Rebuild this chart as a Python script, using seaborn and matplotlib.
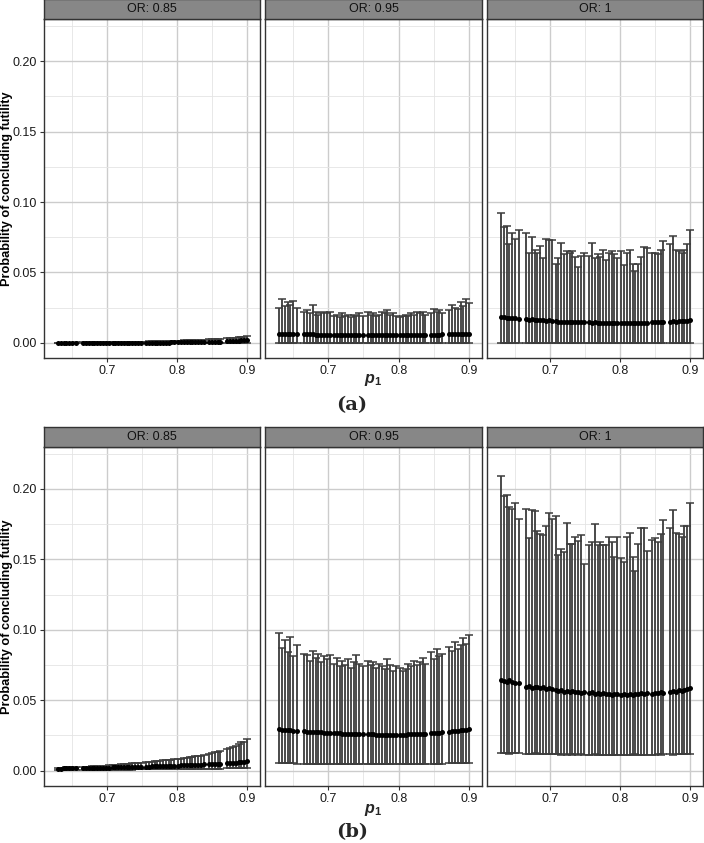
import numpy as np
import pandas as pd
import seaborn as sns
import matplotlib
matplotlib.use("Agg")
import matplotlib.pyplot as plt
from matplotlib.ticker import MultipleLocator

# p1 grid (shared by all panels)
p1 = [0.630, 0.634, 0.638, 0.642, 0.646, 0.650, 0.655,
      0.666, 0.670, 0.674, 0.678, 0.682, 0.686, 0.690, 0.694, 0.698,
      0.703, 0.708, 0.712, 0.716, 0.720, 0.724, 0.728, 0.732, 0.736, 0.740, 0.744, 0.749,
      0.756, 0.760, 0.764, 0.768, 0.772, 0.776, 0.780, 0.784, 0.788, 0.792, 0.796,
      0.802, 0.806, 0.810, 0.814, 0.818, 0.822, 0.826, 0.830, 0.834, 0.838,
      0.846, 0.850, 0.854, 0.858, 0.862,
      0.872, 0.876, 0.880, 0.884, 0.888, 0.892, 0.896, 0.900]

odds_ratios = ["0.85", "0.95", "1"]
rows = ["a", "b"]

# ---- (a) ----
lower_a = [0.0, 0.0, 0.0, 0.0, 0.0, 0.0, 0.0,
           0.0, 0.0, 0.0, 0.0, 0.0, 0.0, 0.0, 0.0, 0.0,
           0.0, 0.0, 0.0, 0.0, 0.0, 0.0, 0.0, 0.0, 0.0, 0.0, 0.0, 0.0,
           0.0, 0.0, 0.0, 0.0, 0.0, 0.0, 0.0, 0.0, 0.0, 0.0, 0.0,
           0.0, 0.0, 0.0, 0.0, 0.0, 0.0, 0.0, 0.0, 0.0, 0.0,
           0.0, 0.0, 0.0, 0.0, 0.0,
           0.0, 0.0, 0.0, 0.0, 0.0, 0.0, 0.0, 0.0]

a85_mean = [0.0000, 0.0000, 0.0000, 0.0000, 0.0000, 0.0000, 0.0000,
            0.0000, 0.0000, 0.0000, 0.0000, 0.0000, 0.0000, 0.0000, 0.0000, 0.0000,
            0.0000, 0.0000, 0.0001, 0.0001, 0.0001, 0.0001, 0.0001, 0.0001, 0.0001, 0.0001, 0.0001, 0.0001,
            0.0001, 0.0001, 0.0001, 0.0002, 0.0002, 0.0002, 0.0002, 0.0002, 0.0002, 0.0003, 0.0003,
            0.0003, 0.0003, 0.0003, 0.0004, 0.0004, 0.0004, 0.0005, 0.0005, 0.0005, 0.0006,
            0.0007, 0.0007, 0.0008, 0.0008, 0.0009,
            0.0011, 0.0012, 0.0013, 0.0014, 0.0015, 0.0017, 0.0018, 0.0020]
a85_upper = [0.0002, 0.0002, 0.0002, 0.0002, 0.0002, 0.0002, 0.0003,
             0.0003, 0.0003, 0.0003, 0.0004, 0.0004, 0.0004, 0.0004, 0.0005, 0.0005,
             0.0005, 0.0005, 0.0006, 0.0006, 0.0006, 0.0007, 0.0007, 0.0007, 0.0008, 0.0008, 0.0008, 0.0009,
             0.0009, 0.0010, 0.0010, 0.0011, 0.0011, 0.0012, 0.0012, 0.0013, 0.0013, 0.0014, 0.0015,
             0.0015, 0.0016, 0.0017, 0.0017, 0.0018, 0.0019, 0.0020, 0.0021, 0.0022, 0.0023,
             0.0025, 0.0026, 0.0027, 0.0028, 0.0030,
             0.0032, 0.0034, 0.0036, 0.0037, 0.0039, 0.0041, 0.0043, 0.0046]

a95_mean = [0.0066, 0.0065, 0.0064, 0.0064, 0.0063, 0.0063, 0.0062,
            0.0061, 0.0061, 0.0060, 0.0060, 0.0059, 0.0059, 0.0058, 0.0058, 0.0058,
            0.0057, 0.0057, 0.0056, 0.0056, 0.0056, 0.0055, 0.0055, 0.0055, 0.0055, 0.0054, 0.0054, 0.0054,
            0.0054, 0.0054, 0.0053, 0.0053, 0.0053, 0.0053, 0.0053, 0.0054, 0.0054, 0.0054, 0.0054,
            0.0054, 0.0055, 0.0055, 0.0055, 0.0055, 0.0056, 0.0056, 0.0056, 0.0057, 0.0057,
            0.0058, 0.0058, 0.0059, 0.0059, 0.0060,
            0.0061, 0.0061, 0.0062, 0.0062, 0.0063, 0.0064, 0.0064, 0.0065]
a95_upper = [0.025, 0.031, 0.026, 0.029, 0.027, 0.030, 0.025,
             0.022, 0.023, 0.021, 0.027, 0.022, 0.020, 0.021, 0.022, 0.021,
             0.022, 0.019, 0.020, 0.018, 0.021, 0.019, 0.020, 0.018, 0.020, 0.019, 0.021, 0.019,
             0.022, 0.020, 0.021, 0.019, 0.020, 0.022, 0.021, 0.023, 0.020, 0.021, 0.019,
             0.018, 0.019, 0.020, 0.019, 0.021, 0.020, 0.022, 0.021, 0.022, 0.020,
             0.021, 0.024, 0.022, 0.023, 0.021,
             0.023, 0.027, 0.025, 0.024, 0.029, 0.026, 0.031, 0.028]

a1_mean = [0.0185, 0.0180, 0.0178, 0.0176, 0.0174, 0.0175, 0.0172,
           0.0166, 0.0164, 0.0167, 0.0163, 0.0165, 0.0160, 0.0162, 0.0158, 0.0160,
           0.0155, 0.0152, 0.0150, 0.0151, 0.0148, 0.0149, 0.0147, 0.0148, 0.0146, 0.0147, 0.0145, 0.0146,
           0.0146, 0.0144, 0.0145, 0.0143, 0.0144, 0.0142, 0.0143, 0.0141, 0.0143, 0.0142, 0.0141,
           0.0140, 0.0142, 0.0141, 0.0140, 0.0142, 0.0141, 0.0143, 0.0142, 0.0144, 0.0143,
           0.0145, 0.0146, 0.0145, 0.0147, 0.0148,
           0.0150, 0.0152, 0.0151, 0.0154, 0.0155, 0.0157, 0.0158, 0.0160]
a1_upper = [0.092, 0.082, 0.083, 0.070, 0.078, 0.074, 0.080,
            0.078, 0.064, 0.075, 0.066, 0.064, 0.069, 0.060, 0.074, 0.073,
            0.073, 0.056, 0.060, 0.071, 0.063, 0.065, 0.064, 0.065, 0.061, 0.054, 0.062, 0.064,
            0.062, 0.071, 0.060, 0.063, 0.061, 0.066, 0.059, 0.064, 0.065, 0.063, 0.060,
            0.065, 0.055, 0.064, 0.066, 0.056, 0.051, 0.056, 0.061, 0.068, 0.067,
            0.064, 0.064, 0.063, 0.066, 0.072,
            0.070, 0.076, 0.066, 0.065, 0.064, 0.066, 0.070, 0.080]

# ---- (b) ----
b85_mean = [0.0014, 0.0014, 0.0015, 0.0015, 0.0015, 0.0016, 0.0016,
            0.0017, 0.0017, 0.0018, 0.0018, 0.0019, 0.0019, 0.0020, 0.0020, 0.0021,
            0.0021, 0.0022, 0.0022, 0.0023, 0.0023, 0.0024, 0.0024, 0.0025, 0.0025, 0.0026, 0.0026, 0.0027,
            0.0028, 0.0028, 0.0029, 0.0029, 0.0030, 0.0031, 0.0031, 0.0032, 0.0033, 0.0033, 0.0034,
            0.0035, 0.0036, 0.0036, 0.0037, 0.0038, 0.0039, 0.0040, 0.0041, 0.0042, 0.0043,
            0.0045, 0.0046, 0.0047, 0.0048, 0.0049,
            0.0052, 0.0053, 0.0055, 0.0056, 0.0058, 0.0060, 0.0062, 0.0066]
b85_upper = [0.0019, 0.0020, 0.0021, 0.0022, 0.0022, 0.0023, 0.0024,
             0.0026, 0.0027, 0.0028, 0.0029, 0.0030, 0.0031, 0.0033, 0.0034, 0.0035,
             0.0037, 0.0038, 0.0040, 0.0041, 0.0043, 0.0044, 0.0046, 0.0048, 0.0050, 0.0052, 0.0054, 0.0056,
             0.0060, 0.0062, 0.0064, 0.0066, 0.0068, 0.0070, 0.0072, 0.0074, 0.0076, 0.0078, 0.0080,
             0.0083, 0.0085, 0.0088, 0.0091, 0.0094, 0.0097, 0.0100, 0.0103, 0.0106, 0.0109,
             0.0120, 0.0124, 0.0129, 0.0134, 0.0138,
             0.0155, 0.0160, 0.0170, 0.0175, 0.0185, 0.0200, 0.0205, 0.0222]
b85_lower = [0.0004, 0.0004, 0.0004, 0.0004, 0.0004, 0.0005, 0.0005,
             0.0005, 0.0005, 0.0005, 0.0005, 0.0005, 0.0006, 0.0006, 0.0006, 0.0006,
             0.0006, 0.0006, 0.0006, 0.0007, 0.0007, 0.0007, 0.0007, 0.0007, 0.0007, 0.0008, 0.0008, 0.0008,
             0.0008, 0.0008, 0.0008, 0.0009, 0.0009, 0.0009, 0.0009, 0.0009, 0.0010, 0.0010, 0.0010,
             0.0010, 0.0010, 0.0011, 0.0011, 0.0011, 0.0011, 0.0012, 0.0012, 0.0012, 0.0012,
             0.0013, 0.0013, 0.0013, 0.0014, 0.0014,
             0.0015, 0.0015, 0.0016, 0.0016, 0.0017, 0.0017, 0.0018, 0.0018]

b95_mean = [0.0292, 0.0288, 0.0286, 0.0287, 0.0285, 0.0284, 0.0283,
            0.0278, 0.0277, 0.0276, 0.0276, 0.0275, 0.0273, 0.0272, 0.0270, 0.0268,
            0.0266, 0.0265, 0.0263, 0.0264, 0.0262, 0.0261, 0.0262, 0.0260, 0.0259, 0.0260, 0.0258, 0.0257,
            0.0258, 0.0257, 0.0256, 0.0255, 0.0254, 0.0255, 0.0253, 0.0254, 0.0253, 0.0252, 0.0252,
            0.0253, 0.0254, 0.0255, 0.0256, 0.0256, 0.0258, 0.0258, 0.0260, 0.0261, 0.0262,
            0.0265, 0.0266, 0.0268, 0.0269, 0.0271,
            0.0276, 0.0278, 0.0280, 0.0283, 0.0285, 0.0287, 0.0291, 0.0296]
b95_upper = [0.098, 0.087, 0.093, 0.084, 0.095, 0.081, 0.089,
             0.083, 0.082, 0.078, 0.085, 0.080, 0.083, 0.077, 0.081, 0.079,
             0.082, 0.076, 0.080, 0.074, 0.078, 0.075, 0.079, 0.073, 0.077, 0.082, 0.076, 0.074,
             0.078, 0.075, 0.077, 0.073, 0.076, 0.074, 0.072, 0.079, 0.075, 0.071, 0.074,
             0.073, 0.071, 0.072, 0.076, 0.074, 0.078, 0.075, 0.077, 0.080, 0.076,
             0.084, 0.079, 0.086, 0.081, 0.083,
             0.088, 0.085, 0.091, 0.086, 0.089, 0.094, 0.090, 0.096]
b95_lower = [0.0052, 0.0051, 0.0051, 0.0050, 0.0050, 0.0050, 0.0049,
             0.0049, 0.0049, 0.0048, 0.0048, 0.0048, 0.0048, 0.0048, 0.0047, 0.0047,
             0.0047, 0.0047, 0.0047, 0.0047, 0.0046, 0.0046, 0.0046, 0.0046, 0.0046, 0.0046, 0.0046, 0.0046,
             0.0046, 0.0046, 0.0046, 0.0046, 0.0046, 0.0046, 0.0046, 0.0046, 0.0046, 0.0046, 0.0046,
             0.0046, 0.0046, 0.0047, 0.0047, 0.0047, 0.0047, 0.0047, 0.0047, 0.0048, 0.0048,
             0.0048, 0.0048, 0.0049, 0.0049, 0.0049,
             0.0050, 0.0050, 0.0051, 0.0051, 0.0052, 0.0052, 0.0053, 0.0054]

b1_mean = [0.0645, 0.0638, 0.0632, 0.0640, 0.0628, 0.0624, 0.0620,
           0.0595, 0.0602, 0.0588, 0.0596, 0.0590, 0.0583, 0.0592, 0.0580, 0.0586,
           0.0576, 0.0570, 0.0566, 0.0572, 0.0561, 0.0565, 0.0558, 0.0562, 0.0555, 0.0560, 0.0552, 0.0557,
           0.0550, 0.0556, 0.0545, 0.0552, 0.0542, 0.0548, 0.0540, 0.0546, 0.0538, 0.0544, 0.0541,
           0.0536, 0.0543, 0.0539, 0.0546, 0.0537, 0.0544, 0.0540, 0.0548, 0.0542, 0.0550,
           0.0545, 0.0552, 0.0548, 0.0556, 0.0553,
           0.0560, 0.0566, 0.0558, 0.0570, 0.0565, 0.0574, 0.0580, 0.0585]
b1_upper = [0.209, 0.195, 0.196, 0.187, 0.186, 0.190, 0.179,
            0.186, 0.165, 0.185, 0.184, 0.170, 0.168, 0.167, 0.174, 0.183,
            0.179, 0.181, 0.153, 0.157, 0.155, 0.176, 0.161, 0.161, 0.166, 0.163, 0.167, 0.147,
            0.160, 0.162, 0.175, 0.160, 0.162, 0.160, 0.160, 0.166, 0.162, 0.152, 0.166,
            0.151, 0.148, 0.166, 0.169, 0.152, 0.142, 0.161, 0.172, 0.172, 0.156,
            0.164, 0.165, 0.162, 0.168, 0.178,
            0.172, 0.185, 0.169, 0.168, 0.166, 0.174, 0.174, 0.190]
b1_lower = [0.0125, 0.0122, 0.0124, 0.0120, 0.0126, 0.0121, 0.0123,
            0.0118, 0.0120, 0.0117, 0.0121, 0.0116, 0.0119, 0.0115, 0.0118, 0.0116,
            0.0117, 0.0114, 0.0118, 0.0113, 0.0116, 0.0112, 0.0115, 0.0113, 0.0117, 0.0112, 0.0114, 0.0111,
            0.0113, 0.0110, 0.0114, 0.0109, 0.0112, 0.0110, 0.0113, 0.0108, 0.0111, 0.0109, 0.0112,
            0.0110, 0.0113, 0.0109, 0.0112, 0.0110, 0.0114, 0.0111, 0.0113, 0.0110, 0.0112,
            0.0113, 0.0111, 0.0115, 0.0112, 0.0114,
            0.0115, 0.0113, 0.0116, 0.0114, 0.0117, 0.0115, 0.0118, 0.0116]

panels = {
    ("a", "0.85"): (a85_mean, lower_a, a85_upper),
    ("a", "0.95"): (a95_mean, lower_a, a95_upper),
    ("a", "1"): (a1_mean, lower_a, a1_upper),
    ("b", "0.85"): (b85_mean, b85_lower, b85_upper),
    ("b", "0.95"): (b95_mean, b95_lower, b95_upper),
    ("b", "1"): (b1_mean, b1_lower, b1_upper),
}

frames = []
for (r, o), (m, lo, up) in panels.items():
    frames.append(pd.DataFrame({"row": r, "OR": o, "p1": p1,
                                "mean": m, "lower": lo, "upper": up}))
df = pd.concat(frames, ignore_index=True)

sns.set_theme(style="whitegrid")
plt.rcParams["font.family"] = ["Liberation Sans", "DejaVu Sans"]
plt.rcParams["mathtext.fontset"] = "custom"
plt.rcParams["mathtext.it"] = "Liberation Sans:bold:italic"
plt.rcParams["mathtext.rm"] = "Liberation Sans:bold"

W, H = 704, 843
fig = plt.figure(figsize=(W / 100, H / 100), dpi=100)

col_px = [(44, 260), (265, 482), (487, 703)]
row_px = {"a": (19.3, 358.3), "b": (447, 786)}
strip_h = 20

for r in rows:
    top, bot = row_px[r]
    for j, o in enumerate(odds_ratios):
        x0, x1 = col_px[j]
        ax = fig.add_axes([x0 / W, 1 - bot / H, (x1 - x0) / W, (bot - top) / H])
        sub = df[(df["row"] == r) & (df["OR"] == o)]
        ax.errorbar(sub["p1"], sub["mean"],
                    yerr=[sub["mean"] - sub["lower"], sub["upper"] - sub["mean"]],
                    fmt="none", ecolor="#3c3c3c", elinewidth=1.3, capsize=2.6,
                    capthick=1.1, zorder=3)
        sns.scatterplot(data=sub, x="p1", y="mean", ax=ax, color="black",
                        s=13, linewidth=0, zorder=4)
        ax.set_xlim(0.610, 0.9185)
        ax.set_ylim(-0.011, 0.2298)
        ax.xaxis.set_major_locator(MultipleLocator(0.1))
        ax.xaxis.set_minor_locator(MultipleLocator(0.05))
        ax.yaxis.set_major_locator(MultipleLocator(0.05))
        ax.yaxis.set_minor_locator(MultipleLocator(0.025))
        ax.xaxis.set_major_formatter(plt.FuncFormatter(lambda v, p: f"{v:.1f}"))
        ax.yaxis.set_major_formatter(plt.FuncFormatter(lambda v, p: f"{v:.2f}"))
        ax.grid(which="major", color="#cccccc", linewidth=1.0)
        ax.grid(which="minor", color="#e4e4e4", linewidth=0.6)
        ax.set_axisbelow(True)
        for s in ax.spines.values():
            s.set_color("#333333")
            s.set_linewidth(1.0)
        ax.tick_params(which="major", length=3, width=0.8, color="#333333",
                       pad=2, labelsize=9, labelcolor="#1a1a1a",
                       bottom=True, left=(j == 0))
        ax.tick_params(which="minor", length=0)
        if j > 0:
            ax.set_yticklabels([])
        ax.set_xlabel("")
        ax.set_ylabel("")

        sax = fig.add_axes([x0 / W, 1 - top / H, (x1 - x0) / W, strip_h / H])
        sax.set_facecolor("#878787")
        sax.set_xticks([])
        sax.set_yticks([])
        sax.grid(False)
        for s in sax.spines.values():
            s.set_color("#333333")
            s.set_linewidth(1.0)
        sax.text(0.5, 0.5, f"OR: {o}", ha="center", va="center",
                 fontsize=9, color="#111111", transform=sax.transAxes)

    mid = (top + bot) / 2
    fig.text(7 / W, 1 - mid / H, "Probability of concluding futility",
             rotation=90, ha="center", va="center", fontsize=9.2,
             fontweight="bold", color="black")

fig.text(373 / W, 1 - 380 / H, r"$p_1$", ha="center", va="center", fontsize=11.5)
fig.text(373 / W, 1 - 810 / H, r"$p_1$", ha="center", va="center", fontsize=11.5)
fig.text(352 / W, 1 - 405 / H, "(a)", ha="center", va="center", fontsize=14,
         fontweight="bold", family=["DejaVu Serif"])
fig.text(352 / W, 1 - 832 / H, "(b)", ha="center", va="center", fontsize=14,
         fontweight="bold", family=["DejaVu Serif"])

fig.savefig("out.png", dpi=100, facecolor="white")
